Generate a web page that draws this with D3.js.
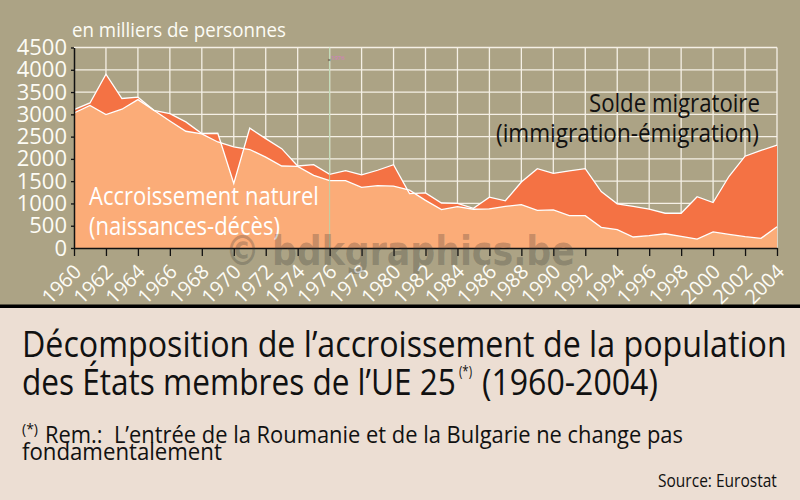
<!DOCTYPE html>
<html>
<head>
<meta charset="utf-8">
<script src="https://cdn.jsdelivr.net/npm/d3@7"></script>
<style>
  html, body { margin: 0; padding: 0; background: #ecded3; }
  svg { display: block; font-family: "Open Sans", sans-serif; }
  text { white-space: pre; }
</style>
</head>
<body>
<div id="chart"></div>
<script>
// values, in thousands of people
const years = d3.range(1960, 2005);
const naturel = [3030, 3200, 2995, 3115, 3330, 3090, 2850, 2620, 2560, 2380,
  2270, 2210, 2040, 1840, 1830, 1630, 1510, 1510, 1360, 1400,
  1390, 1300, 1070, 860, 930, 870, 880, 935, 975, 845,
  855, 725, 725, 465, 410, 247, 277, 320, 262, 200,
  360, 305, 255, 217, 478];
const total = [3105, 3255, 3900, 3355, 3385, 3090, 3015, 2830, 2570, 2575,
  1450, 2690, 2455, 2230, 1840, 1870, 1655, 1735, 1640, 1745,
  1870, 1220, 1235, 1010, 1000, 890, 1140, 1060, 1480, 1780,
  1675, 1730, 1780, 1265, 990, 935, 875, 780, 780, 1150,
  1020, 1610, 2060, 2190, 2310];
const yTicks = [0, 500, 1000, 1500, 2000, 2500, 3000, 3500, 4000, 4500];
const xTicks = d3.range(1960, 2005, 2);

const width = 800;
const height = 500;

const x = d3.scaleLinear().domain([1960, 2004]).range([74, 777]);
const y = d3.scaleLinear().domain([0, 4500]).range([248, 47.5]);

const svg = d3.select("#chart").append("svg")
  .attr("width", width)
  .attr("height", height);

// panels
svg.append("rect").attr("width", width).attr("height", 305).attr("fill", "#aca385");
svg.append("rect").attr("y", 305).attr("width", width).attr("height", 195).attr("fill", "#ecded3");
svg.append("rect").attr("y", 304.5).attr("width", width).attr("height", 3.5).attr("fill", "#000");

// grid
svg.append("g").selectAll("line").data(yTicks.slice(1)).enter().append("line")
  .attr("x1", x(1960)).attr("x2", x(2004))
  .attr("y1", d => y(d)).attr("y2", d => y(d))
  .attr("stroke", "#f5f0e6").attr("stroke-width", 1.3);
svg.append("g").selectAll("line").data(xTicks.slice(1)).enter().append("line")
  .attr("x1", d => x(d)).attr("x2", d => x(d))
  .attr("y1", y(4500)).attr("y2", y(0))
  .attr("stroke", "#f5f0e6").attr("stroke-width", 1.3);

// areas: the migration band is drawn between the two curves
const areaNaturel = d3.area()
  .x((d, i) => x(years[i]))
  .y0(y(0))
  .y1(d => y(d));
const areaSolde = d3.area()
  .x((d, i) => x(years[i]))
  .y0((d, i) => y(naturel[i]))
  .y1(d => y(d));
const line = d3.line()
  .x((d, i) => x(years[i]))
  .y(d => y(d));

svg.append("path").datum(naturel).attr("d", areaNaturel).attr("fill", "#fbac78");
svg.append("path").datum(total).attr("d", areaSolde).attr("fill", "#f47244");
svg.append("path").datum(naturel).attr("d", line)
  .attr("fill", "none").attr("stroke", "#fff").attr("stroke-width", 1.3);
svg.append("path").datum(total).attr("d", line)
  .attr("fill", "none").attr("stroke", "#fff").attr("stroke-width", 1.3);

// stray guide left in the artwork
svg.append("line")
  .attr("x1", x(1976)).attr("x2", x(1976))
  .attr("y1", y(4500)).attr("y2", y(0))
  .attr("stroke", "#b5d6ae").attr("stroke-width", 0.9);
svg.append("text").attr("x", 331).attr("y", 60)
  .attr("font-size", 6).attr("fill", "#d977c8").text("1976");
svg.append("text").attr("x", 327.5).attr("y", 61.5)
  .attr("font-size", 6).attr("fill", "#333").text("×");

// axes
const xAxis = svg.append("g")
  .attr("transform", `translate(0,${y(0)})`)
  .call(d3.axisBottom(x).tickValues(xTicks).tickFormat(d3.format("d")).tickSize(8).tickSizeOuter(0));
xAxis.selectAll("text")
  .attr("font-family", "Open Sans")
  .attr("font-size", 20)
  .attr("fill", "#fdfcf5")
  .attr("text-anchor", "end")
  .attr("dx", 0).attr("dy", 0)
  .attr("transform", "translate(8,25) rotate(-45)")
  .attr("y", 0);

const yAxis = svg.append("g")
  .attr("transform", `translate(${x(1960)},0)`)
  .call(d3.axisLeft(y).tickValues(yTicks).tickFormat(d3.format("d")).tickSize(3).tickSizeOuter(0));
yAxis.selectAll("text")
  .attr("font-family", "Open Sans")
  .attr("font-size", 22)
  .attr("fill", "#fdfcf5")
  .attr("x", -7);
svg.selectAll(".domain").attr("stroke", "#111").attr("stroke-width", 1.5);
svg.selectAll(".tick line").attr("stroke", "#111").attr("stroke-width", 1.3);

// the original face is narrower than the ones installed, so squeeze to the measured width
function label(txt, px, py, size, color, len, family, weight) {
  const t = svg.append("text")
    .attr("font-family", family || "Open Sans")
    .attr("font-weight", weight || "normal")
    .attr("font-size", size)
    .attr("fill", color)
    .text(txt);
  const k = len / t.node().getComputedTextLength();
  t.attr("transform", `translate(${px},${py}) scale(${k},1)`);
  return t;
}

label("en milliers de personnes", 72, 37, 20.5, "#fdfcf5", 214);
label("Accroissement naturel", 89, 205, 25.5, "#fff", 230);
label("(naissances-décès)", 89, 235, 25.5, "#fff", 191);
label("Solde migratoire", 589, 112, 25.5, "#111", 171);
label("(immigration-émigration)", 496, 142, 25.5, "#111", 263);

// title block
label("Décomposition de l’accroissement de la population", 22, 357, 37, "#111", 765);
label("des États membres de l’UE 25", 22, 395, 37, "#111", 434);
label("(*)", 459, 376, 14, "#111", 13);
label("(1960-2004)", 482, 395, 37, "#111", 176);
label("(*)", 22, 434, 15, "#111", 16);
label("Rem.:  L’entrée de la Roumanie et de la Bulgarie ne change pas", 45, 443, 24, "#111", 638);
label("fondamentalement", 22, 460, 24, "#111", 200);
label("Source: Eurostat", 658, 487, 18, "#111", 119);

// watermark
const mark = label("© bdkgraphics.be", 225, 265, 40, "#333", 350, "DejaVu Sans", "bold");
mark.attr("fill-opacity", 0.27);
</script>
</body>
</html>
